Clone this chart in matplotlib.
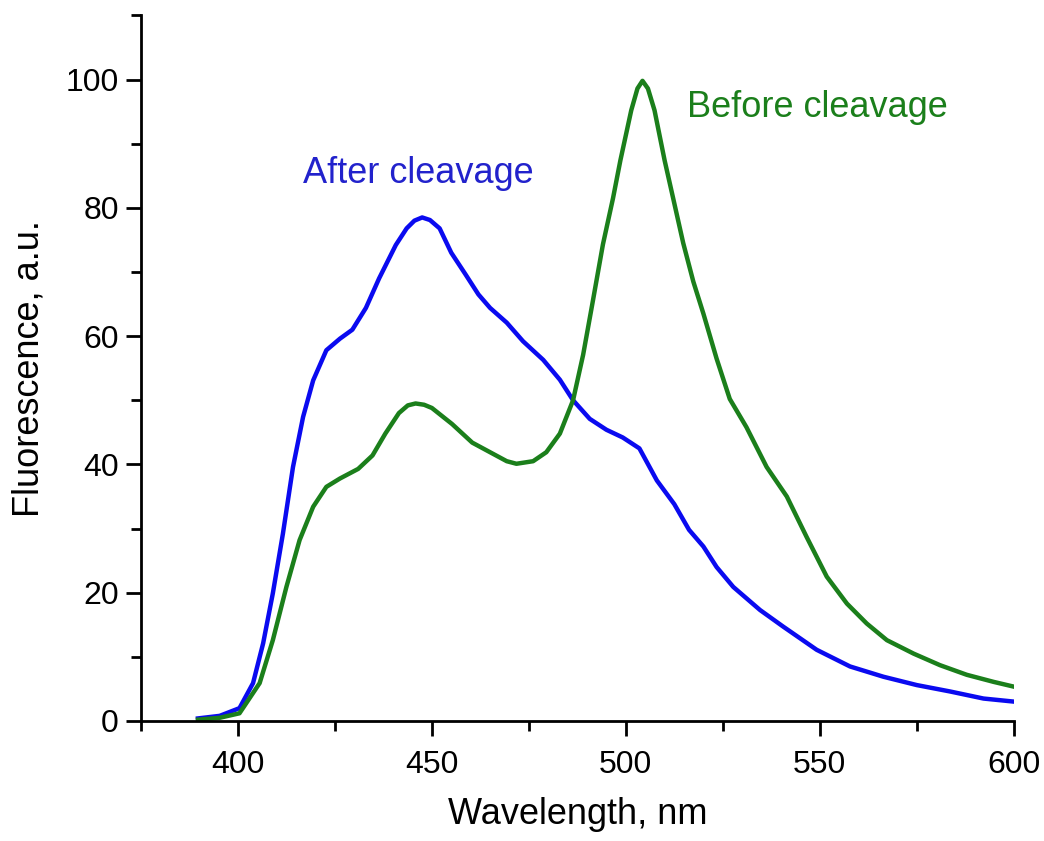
import numpy as np
import matplotlib
matplotlib.use('Agg')
import matplotlib.pyplot as plt
from matplotlib.ticker import MultipleLocator

plt.rcParams['font.family'] = ['Liberation Sans', 'DejaVu Sans']

# after cleavage (blue)
after_nm = [389.7, 395.3, 400.4, 403.9, 406.5, 409, 411.6, 414.2, 416.8, 419.4, 422.8,
            426.3, 429.5, 433, 436.4, 440.7, 443.5, 445.5, 447.5, 449.5, 452, 455, 458.7,
            462, 465, 469.3, 473.5, 478.7, 483, 486.4, 490.7, 495, 499.2, 503.5, 508,
            512.5, 516.3, 520, 523.4, 527.7, 534.6, 540.6, 549.2, 557.8, 566.4, 575,
            583.6, 592.2, 600.4]
after_val = [0.4, 0.8, 2.0, 5.9, 12.1, 19.9, 29.2, 39.6, 47.4, 53.1, 57.8,
             59.6, 61, 64.4, 69, 74.2, 76.8, 78.0, 78.5, 78.1, 76.8, 73, 69.6,
             66.5, 64.4, 62.1, 59.2, 56.3, 53.2, 50, 47.1, 45.4, 44.2, 42.5, 37.5,
             33.8, 29.8, 27.2, 24, 20.9, 17.3, 14.7, 11.1, 8.5, 6.9, 5.6,
             4.6, 3.5, 3.0]

# before cleavage (green)
before_nm = [389.7, 395.3, 400.4, 405.6, 409, 412.5, 415.9, 419.4, 422.8, 426.3, 431,
             434.7, 438, 441.5, 443.8, 445.8, 448, 450, 455.2, 460.4, 465, 469.3, 471.8,
             476.1, 479.5, 483, 486.4, 489, 491.6, 494.1, 496.7, 498.6, 501.4, 503,
             504.3, 505.7, 507.4, 510, 512.2, 514.8, 517.4, 520, 523.4, 526.8, 531.1,
             536.3, 541.5, 546.6, 551.8, 557, 562.1, 567.3, 574.2, 581, 587.9, 594.8,
             600.4]
before_val = [0.2, 0.5, 1.2, 5.9, 12.6, 20.9, 28.2, 33.4, 36.5, 37.8, 39.3,
              41.4, 44.8, 48, 49.2, 49.5, 49.3, 48.8, 46.3, 43.4, 41.9, 40.5, 40.1,
              40.5, 41.9, 44.8, 50, 57.1, 65.8, 74.3, 81.5, 87.4, 95.2, 98.6,
              99.8, 98.6, 95.2, 87.4, 81.5, 74.5, 68.5, 63.5, 56.5, 50.2, 45.8,
              39.6, 35, 28.7, 22.5, 18.3, 15.2, 12.6, 10.5, 8.7, 7.2, 6.1,
              5.3]

fig = plt.figure(figsize=(10.44, 8.41), dpi=100)
ax = fig.add_axes([0.135, 0.1427, 0.836, 0.839])

ax.plot(after_nm, after_val, color='#0a0af0', lw=3.2, solid_joinstyle='round')
ax.plot(before_nm, before_val, color='#1b7f1b', lw=3.2, solid_joinstyle='round')

ax.text(416.8, 85.4, 'After cleavage', color='#2222cc', fontsize=26, va='center', ha='left')
ax.text(515.7, 95.6, 'Before cleavage', color='#1b7f1b', fontsize=26, va='center', ha='left')

ax.set_xlim(375, 600)
ax.set_ylim(0, 110)
ax.xaxis.set_major_locator(MultipleLocator(50))
ax.xaxis.set_minor_locator(MultipleLocator(25))
ax.yaxis.set_major_locator(MultipleLocator(20))
ax.yaxis.set_minor_locator(MultipleLocator(10))

for s in ['top', 'right']:
    ax.spines[s].set_visible(False)
for s in ['left', 'bottom']:
    ax.spines[s].set_linewidth(2)

ax.tick_params(which='major', direction='out', length=11, width=2, labelsize=23)
ax.tick_params(which='minor', direction='out', length=7, width=2)
ax.tick_params(axis='x', which='major', pad=10)
ax.tick_params(axis='y', which='major', pad=5)

ax.set_xlabel('Wavelength, nm', fontsize=26)
ax.set_ylabel('Fluorescence, a.u.', fontsize=26)
ax.xaxis.set_label_coords(0.5, -0.108)
ax.yaxis.set_label_coords(-0.108, 0.5)

fig.savefig('out.png', dpi=100)
